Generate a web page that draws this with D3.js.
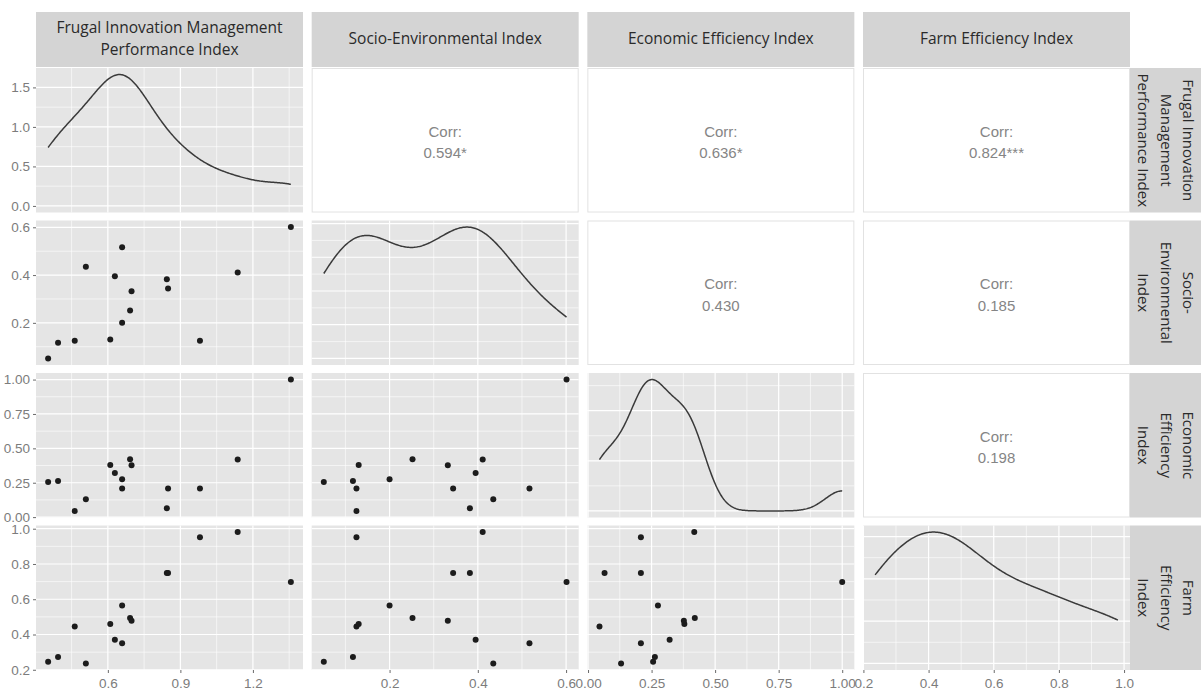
<!DOCTYPE html>
<html>
<head>
<meta charset="utf-8">
<script src="https://cdn.jsdelivr.net/npm/d3@7"></script>
<style>
  body { margin: 0; background: #fff; }
  svg { display: block; }
</style>
</head>
<body>
<svg id="chart" width="1201" height="691"></svg>
<script>
// ---- Data -------------------------------------------------------------
// Strip labels for the four indices (top and right side)
const topLabels = [
  ["Frugal Innovation Management", "Performance Index"],
  ["Socio-Environmental Index"],
  ["Economic Efficiency Index"],
  ["Farm Efficiency Index"]
];
const sideLabels = [
  ["Frugal Innovation", "Management", "Performance Index"],
  ["Socio-", "Environmental", "Index"],
  ["Economic", "Efficiency", "Index"],
  ["Farm", "Efficiency", "Index"]
];

// One value per farm (15 farms), same order in every array
const fimpi = [0.353, 0.394, 0.463, 0.509, 0.610, 0.629, 0.659, 0.659, 0.692, 0.698, 0.844, 0.849, 0.981, 1.137, 1.357];
const sei   = [0.051, 0.117, 0.125, 0.435, 0.130, 0.395, 0.517, 0.200, 0.252, 0.332, 0.382, 0.344, 0.125, 0.411, 0.601];
const eei   = [0.256, 0.263, 0.045, 0.130, 0.379, 0.321, 0.208, 0.275, 0.420, 0.377, 0.065, 0.208, 0.208, 0.418, 1.000];
const fei   = [0.245, 0.272, 0.446, 0.236, 0.459, 0.370, 0.351, 0.565, 0.493, 0.478, 0.749, 0.749, 0.951, 0.981, 0.698];

// Axis breaks for each index, and the density axis of the first row
const tickValues = [
  [0.6, 0.9, 1.2],
  [0.2, 0.4, 0.6],
  [0, 0.25, 0.5, 0.75, 1],
  [0.2, 0.4, 0.6, 0.8, 1.0]
];
const tickDigits = [1, 1, 2, 1];
const densityTicks = [0, 0.5, 1, 1.5];

// Pearson correlations for the upper triangle, row by row
const corrValues = [0.594, 0.636, 0.824, 0.430, 0.185, 0.198];
const corrStars  = ["*", "*", "***", "", "", ""];

// ---- Layout -----------------------------------------------------------
const W = 1201, H = 691;
const panelLeft = 36, panelTop = 68;
const panelW = 267, panelH = 144.5;
const pitchX = 275.67, pitchY = 152.5;
const px = i => panelLeft + i * pitchX;
const py = i => panelTop + i * pitchY;

const panelBg = "#E5E5E5";
const stripBg = "#D4D4D4";
const tickColor = "#7c7c7c";
const stripFont = "'Open Sans', 'Noto Sans', sans-serif";
const axisFont = "'Liberation Sans', Arial, sans-serif";

const svg = d3.select("#chart");
svg.append("rect").attr("width", W).attr("height", H).attr("fill", "#fff");
const defs = svg.append("defs");

const columns = [fimpi, sei, eei, fei];
const nVar = columns.length;

function expanded(v) {
  const [a, b] = d3.extent(v);
  const r = (b - a) * 0.05;
  return [a - r, b + r];
}

const xScales = columns.map((v, i) =>
  d3.scaleLinear().domain(expanded(v)).range([px(i), px(i) + panelW]));
const yScales = columns.map((v, i) =>
  d3.scaleLinear().domain(expanded(v)).range([py(i) + panelH, py(i)]));

// Gaussian kernel density with the nrd0 rule-of-thumb bandwidth
function kde(v) {
  const s = v.slice().sort(d3.ascending);
  const iqr = d3.quantile(s, 0.75) - d3.quantile(s, 0.25);
  const bw = 0.9 * Math.min(d3.deviation(s), iqr / 1.34) * Math.pow(s.length, -0.2);
  const [a, b] = d3.extent(s);
  const steps = 256;
  const norm = s.length * bw * Math.sqrt(2 * Math.PI);
  return d3.range(steps + 1).map(k => {
    const x = a + (b - a) * k / steps;
    const y = d3.sum(s, xi => Math.exp(-0.5 * ((x - xi) / bw) ** 2)) / norm;
    return [x, y];
  });
}

const densities = columns.map(kde);
const densityScales = densities.map((d, i) => {
  const m = d3.max(d, p => p[1]);
  return d3.scaleLinear().domain([-0.05 * m, m * 1.05]).range([py(i) + panelH, py(i)]);
});

function majorIn(ticks, domain) {
  const lo = Math.min(...domain), hi = Math.max(...domain);
  return ticks.filter(t => t >= lo && t <= hi);
}
function minorTicks(major, domain) {
  const lo = Math.min(...domain), hi = Math.max(...domain);
  const step = major[1] - major[0];
  const ext = [major[0] - step, ...major, major[major.length - 1] + step];
  const out = [];
  for (let k = 0; k < ext.length - 1; k++) {
    const m = (ext[k] + ext[k + 1]) / 2;
    if (m >= lo && m <= hi) out.push(m);
  }
  return out;
}

// ---- Panels -----------------------------------------------------------
let corrIndex = 0;
for (let r = 0; r < nVar; r++) {
  for (let c = 0; c < nVar; c++) {
    const x0 = px(c), y0 = py(r);
    const g = svg.append("g");

    if (r < c) {
      // Upper triangle: correlation text
      g.append("rect")
        .attr("x", x0 + 0.5).attr("y", y0 + 0.5)
        .attr("width", panelW - 1).attr("height", panelH - 1)
        .attr("fill", "#fff").attr("stroke", "#E2E2E2").attr("stroke-width", 1);
      const cx = x0 + panelW / 2, cy = y0 + panelH / 2;
      const k = corrIndex++;
      g.append("text")
        .attr("x", cx).attr("y", cy - 7.5)
        .attr("text-anchor", "middle").attr("dominant-baseline", "middle")
        .attr("font-family", axisFont).attr("font-size", 15)
        .attr("fill", "#858585")
        .text("Corr:");
      g.append("text")
        .attr("x", cx).attr("y", cy + 14)
        .attr("text-anchor", "middle").attr("dominant-baseline", "middle")
        .attr("font-family", axisFont).attr("font-size", 15)
        .attr("fill", "#858585")
        .text(d3.format(".3f")(corrValues[k]) + corrStars[k]);
      continue;
    }

    const xs = xScales[c];
    const ys = (r === c) ? densityScales[r] : yScales[r];
    const yMajorAll = (r === c)
      ? (r === 0 ? densityTicks : ys.ticks(4))
      : tickValues[r];

    g.append("rect")
      .attr("x", x0).attr("y", y0).attr("width", panelW).attr("height", panelH)
      .attr("fill", panelBg);

    const xMaj = majorIn(tickValues[c], xs.domain());
    const xMin = minorTicks(tickValues[c], xs.domain());
    const yMaj = majorIn(yMajorAll, ys.domain());
    const yMin = minorTicks(yMajorAll, ys.domain());

    const grid = g.append("g").attr("stroke", "#fff");
    grid.selectAll(".vmin").data(xMin).join("line")
      .attr("x1", d => xs(d)).attr("x2", d => xs(d))
      .attr("y1", y0).attr("y2", y0 + panelH).attr("stroke-width", 0.6);
    grid.selectAll(".hmin").data(yMin).join("line")
      .attr("y1", d => ys(d)).attr("y2", d => ys(d))
      .attr("x1", x0).attr("x2", x0 + panelW).attr("stroke-width", 0.6);
    grid.selectAll(".vmaj").data(xMaj).join("line")
      .attr("x1", d => xs(d)).attr("x2", d => xs(d))
      .attr("y1", y0).attr("y2", y0 + panelH).attr("stroke-width", 1.2);
    grid.selectAll(".hmaj").data(yMaj).join("line")
      .attr("y1", d => ys(d)).attr("y2", d => ys(d))
      .attr("x1", x0).attr("x2", x0 + panelW).attr("stroke-width", 1.2);

    const clipId = `clip-${r}-${c}`;
    defs.append("clipPath").attr("id", clipId).append("rect")
      .attr("x", x0).attr("y", y0).attr("width", panelW).attr("height", panelH);
    const marks = g.append("g").attr("clip-path", `url(#${clipId})`);

    if (r === c) {
      const line = d3.line().x(d => xs(d[0])).y(d => ys(d[1])).curve(d3.curveLinear);
      marks.append("path")
        .datum(densities[r])
        .attr("d", line)
        .attr("fill", "none")
        .attr("stroke", "#3a3a3a")
        .attr("stroke-width", 1.5);
    } else {
      const pts = columns[c].map((v, i) => [v, columns[r][i]]);
      marks.selectAll("circle").data(pts).join("circle")
        .attr("cx", d => xs(d[0]))
        .attr("cy", d => ys(d[1]))
        .attr("r", 3)
        .attr("fill", "#1c1c1c");
    }
  }
}

// ---- Strips -----------------------------------------------------------
for (let c = 0; c < nVar; c++) {
  const g = svg.append("g");
  g.append("rect")
    .attr("x", px(c)).attr("y", 12).attr("width", panelW).attr("height", 55)
    .attr("fill", stripBg);
  const lines = topLabels[c];
  lines.forEach((t, k) => {
    g.append("text")
      .attr("x", px(c) + panelW / 2)
      .attr("y", 40 + (k - (lines.length - 1) / 2) * 22.5)
      .attr("text-anchor", "middle").attr("dominant-baseline", "middle")
      .attr("font-family", stripFont).attr("font-size", 15.5)
      .attr("fill", "#2a2a2a")
      .text(t);
  });
}
for (let r = 0; r < nVar; r++) {
  const g = svg.append("g");
  g.append("rect")
    .attr("x", 1130).attr("y", py(r)).attr("width", 90).attr("height", panelH)
    .attr("fill", stripBg);
  const lines = sideLabels[r];
  const cx = 1165, cy = py(r) + panelH / 2;
  const tg = g.append("g").attr("transform", `translate(${cx},${cy}) rotate(90)`);
  lines.forEach((t, k) => {
    tg.append("text")
      .attr("x", 0)
      .attr("y", (k - (lines.length - 1) / 2) * 22.5)
      .attr("text-anchor", "middle").attr("dominant-baseline", "middle")
      .attr("font-family", stripFont).attr("font-size", 15)
      .attr("fill", "#2a2a2a")
      .text(t);
  });
}

// ---- Axes -------------------------------------------------------------
function styleAxis(sel) {
  sel.select(".domain").remove();
  sel.selectAll(".tick line").attr("stroke", "#6a6a6a");
  sel.selectAll(".tick text")
    .attr("fill", tickColor)
    .attr("font-family", axisFont)
    .attr("font-size", 13.5);
}

for (let c = 0; c < nVar; c++) {
  svg.append("g")
    .attr("transform", `translate(0,${py(nVar - 1) + panelH})`)
    .call(d3.axisBottom(xScales[c])
      .tickValues(tickValues[c])
      .tickFormat(d3.format(`.${tickDigits[c]}f`))
      .tickSize(3).tickPadding(5))
    .call(styleAxis);
}

for (let r = 0; r < nVar; r++) {
  const axis = r === 0
    ? d3.axisLeft(densityScales[0]).tickValues(densityTicks).tickFormat(d3.format(".1f"))
    : d3.axisLeft(yScales[r]).tickValues(tickValues[r]).tickFormat(d3.format(`.${tickDigits[r]}f`));
  svg.append("g")
    .attr("transform", `translate(${panelLeft},0)`)
    .call(axis.tickSize(3).tickPadding(3))
    .call(styleAxis);
}
</script>
</body>
</html>
